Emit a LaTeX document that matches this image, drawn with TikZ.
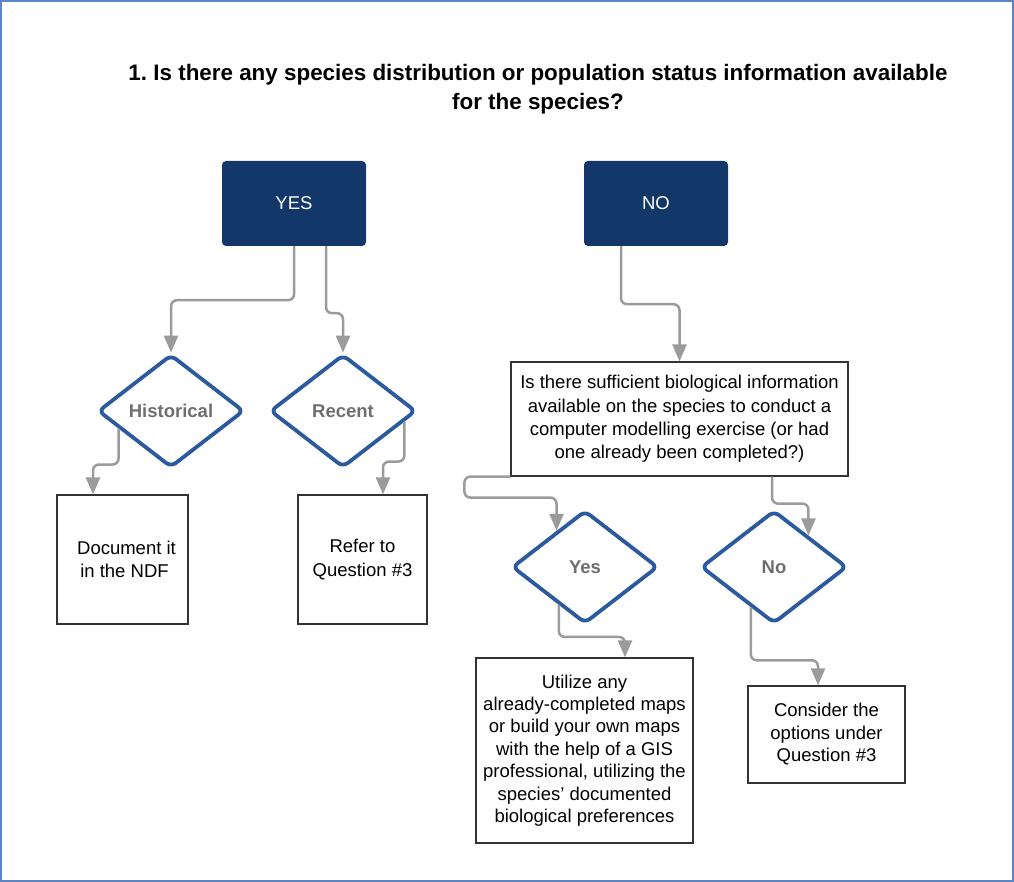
\documentclass[tikz,border=0pt]{standalone}
\usepackage{fontspec}
\setmainfont{Liberation Sans}
\usetikzlibrary{shapes.geometric,arrows.meta,calc}
\definecolor{navy}{HTML}{143769}
\definecolor{dblue}{HTML}{2B5B9E}
\definecolor{cgray}{HTML}{9B9B9B}
\definecolor{tgray}{HTML}{6E6E6E}
\definecolor{framec}{HTML}{5B86C3}
\definecolor{bgray}{HTML}{333333}
\begin{document}
\begin{tikzpicture}[x=1pt,y=-1pt,
  hdr/.style={fill=navy, rounded corners=4pt, minimum width=144pt, minimum height=85pt, text=white, font=\fontsize{18.5}{22}\selectfont, inner sep=0pt},
  dec/.style={diamond, draw=dblue, line width=3.8pt, rounded corners=6pt, minimum width=146pt, minimum height=113pt, inner sep=0pt, text=tgray, font=\bfseries\fontsize{18.5}{22}\selectfont},
  txtbox/.style={draw=bgray, line width=1.2pt, align=center, font=\fontsize{18.5}{23.3}\selectfont, inner sep=0pt},
  conn/.style={draw=cgray, line width=2.5pt, rounded corners=6pt, -{Triangle[length=17pt,width=14pt]}}
]
\useasboundingbox (0,0) rectangle (1014,882);
\draw[framec, line width=2pt] (1,1) rectangle (1013,881);

\node[align=center, font=\bfseries\fontsize{22.4}{29.5}\selectfont] (title) at (538,89)
  {1.\ Is there any species distribution or population status information available\\for the species?};

\node[hdr] (yes) at (294,203.5) {YES};
\node[hdr] (no) at (656,203.5) {NO};

\node[dec] (hist) at (171,411) {Historical};
\node[dec] (rec) at (343,411) {Recent};

\node[txtbox, minimum width=131pt, minimum height=129pt] (doc) at (122.5,559.5) {\hspace*{8pt}Document it\\\hspace*{4pt}in the NDF};
\node[txtbox, minimum width=129pt, minimum height=129pt] (refer) at (362.5,559.5) {Refer to\\Question \#3};

\node[txtbox, minimum width=337pt, minimum height=114pt] (suff) at (679.5,419)
  {Is there sufficient biological information\\available on the species to conduct a\\computer modelling exercise (or had\\one already been completed?)};

\node[dec] (yesd) at (585,567) {Yes};
\node[dec] (nod) at (774,567) {No};

\node[txtbox, minimum width=217pt, minimum height=185pt, font=\fontsize{18.5}{22.4}\selectfont] (util) at (584.5,750.5)
  {Utilize any\\already-completed maps\\or build your own maps\\with the help of a GIS\\professional, utilizing the\\species’ documented\\biological preferences};
\node[txtbox, minimum width=157pt, minimum height=97pt, font=\fontsize{18.5}{22.5}\selectfont] (cons) at (826.5,734.5)
  {Consider the\\options under\\Question \#3};

% connectors
\draw[conn] (yes.south) -- ++(0,54) -| (hist.north);
\draw[conn] ([xshift=32pt]yes.south) -- ++(0,67) -| (rec.north);
\draw[conn] ($(hist.west)!0.3!(hist.south)$) -- ++(0,36) -| ([xshift=-29.5pt]doc.north);
\draw[conn] ($(rec.east)!0.18!(rec.south)$) -- ++(0,40) -| ([xshift=20.5pt]refer.north);
\draw[conn] ([xshift=-35pt]no.south) -- ++(0,58) -| (suff.north);
\draw[conn] (suff.south west) -- ++(-46,0) -- ++(0,21) -| ($(yesd.west)!0.62!(yesd.north)$);
\draw[conn] ([xshift=92.5pt]suff.south) -- ++(0,27) -| ($(nod.north)!0.46!(nod.east)$);
\draw[conn] ($(yesd.west)!0.65!(yesd.south)$) -- ++(0,32) -| ([xshift=40.5pt]util.north);
\draw[conn] ($(nod.west)!0.69!(nod.south)$) -- ++(0,53) -| ([xshift=-8.5pt]cons.north);
\end{tikzpicture}
\end{document}
